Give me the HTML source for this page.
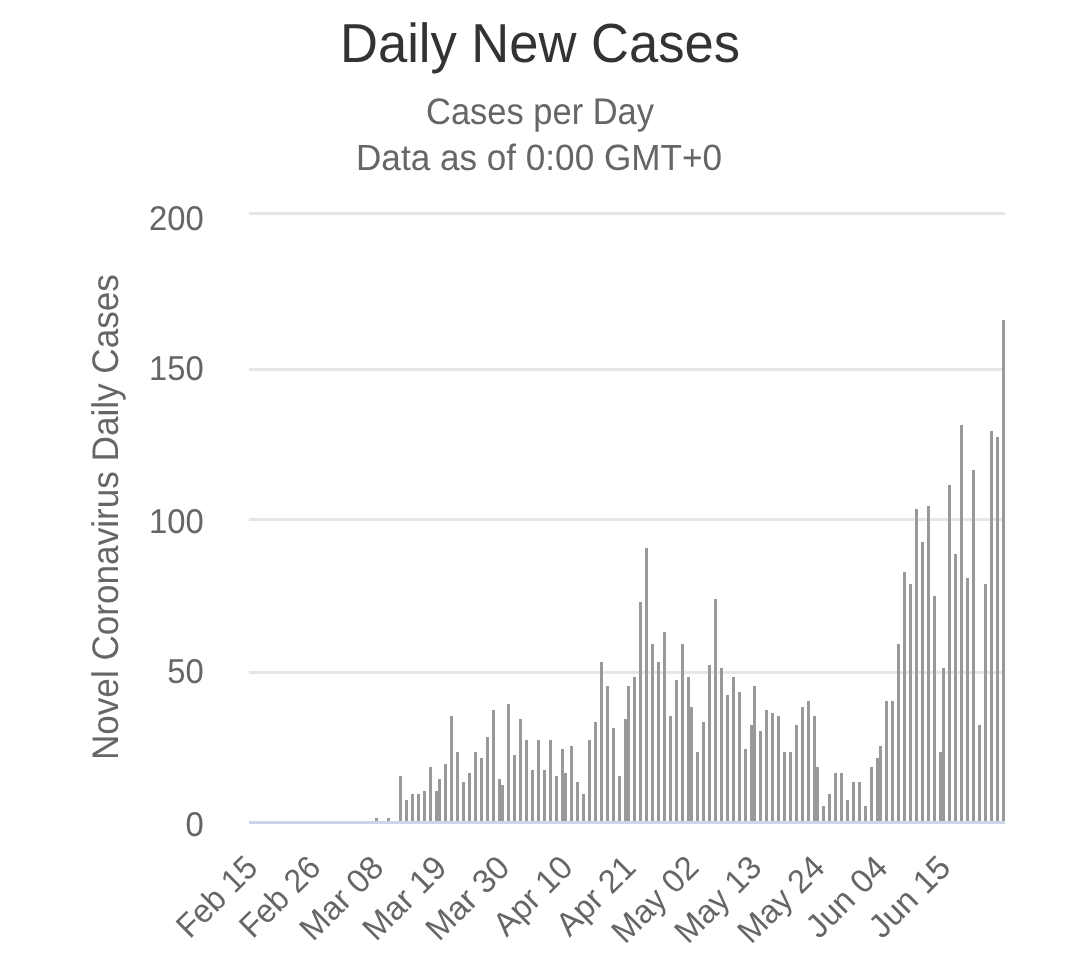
<!DOCTYPE html>
<html><head><meta charset="utf-8"><style>
html,body{margin:0;padding:0;background:#fff;width:1078px;height:976px;overflow:hidden}
svg{display:block;font-family:"Liberation Sans", sans-serif;-webkit-font-smoothing:antialiased;text-rendering:geometricPrecision;will-change:transform}
</style></head><body>
<svg width="1078" height="976" viewBox="0 0 1078 976">
<rect width="1078" height="976" fill="#ffffff"/>
<g fill="#e6e6e6"><rect x="249" y="212" width="756" height="3"/><rect x="249" y="368" width="756" height="3"/><rect x="249" y="518" width="756" height="3"/><rect x="249" y="671" width="756" height="3"/></g>
<g fill="#999999"><rect x="375" y="818" width="3" height="3"/><rect x="387" y="818" width="3" height="3"/><rect x="399" y="776" width="3" height="45"/><rect x="405" y="800" width="3" height="21"/><rect x="411" y="794" width="3" height="27"/><rect x="417" y="794" width="3" height="27"/><rect x="423" y="791" width="3" height="30"/><rect x="429" y="767" width="3" height="54"/><rect x="435" y="791" width="3" height="30"/><rect x="438" y="779" width="3" height="42"/><rect x="444" y="764" width="3" height="57"/><rect x="450" y="716" width="3" height="105"/><rect x="456" y="752" width="3" height="69"/><rect x="462" y="782" width="3" height="39"/><rect x="468" y="773" width="3" height="48"/><rect x="474" y="752" width="3" height="69"/><rect x="480" y="758" width="3" height="63"/><rect x="486" y="737" width="3" height="84"/><rect x="492" y="710" width="3" height="111"/><rect x="498" y="779" width="3" height="42"/><rect x="501" y="785" width="3" height="36"/><rect x="507" y="704" width="3" height="117"/><rect x="513" y="755" width="3" height="66"/><rect x="519" y="719" width="3" height="102"/><rect x="525" y="740" width="3" height="81"/><rect x="531" y="770" width="3" height="51"/><rect x="537" y="740" width="3" height="81"/><rect x="543" y="770" width="3" height="51"/><rect x="549" y="740" width="3" height="81"/><rect x="555" y="776" width="3" height="45"/><rect x="561" y="749" width="3" height="72"/><rect x="564" y="773" width="3" height="48"/><rect x="570" y="746" width="3" height="75"/><rect x="576" y="782" width="3" height="39"/><rect x="582" y="794" width="3" height="27"/><rect x="588" y="740" width="3" height="81"/><rect x="594" y="722" width="3" height="99"/><rect x="600" y="662" width="3" height="159"/><rect x="606" y="686" width="3" height="135"/><rect x="612" y="728" width="3" height="93"/><rect x="618" y="776" width="3" height="45"/><rect x="624" y="719" width="3" height="102"/><rect x="627" y="686" width="3" height="135"/><rect x="633" y="677" width="3" height="144"/><rect x="639" y="602" width="3" height="219"/><rect x="645" y="548" width="3" height="273"/><rect x="651" y="644" width="3" height="177"/><rect x="657" y="662" width="3" height="159"/><rect x="663" y="632" width="3" height="189"/><rect x="669" y="716" width="3" height="105"/><rect x="675" y="680" width="3" height="141"/><rect x="681" y="644" width="3" height="177"/><rect x="687" y="677" width="3" height="144"/><rect x="690" y="707" width="3" height="114"/><rect x="696" y="752" width="3" height="69"/><rect x="702" y="722" width="3" height="99"/><rect x="708" y="665" width="3" height="156"/><rect x="714" y="599" width="3" height="222"/><rect x="720" y="668" width="3" height="153"/><rect x="726" y="695" width="3" height="126"/><rect x="732" y="677" width="3" height="144"/><rect x="738" y="692" width="3" height="129"/><rect x="744" y="749" width="3" height="72"/><rect x="750" y="725" width="3" height="96"/><rect x="753" y="686" width="3" height="135"/><rect x="759" y="731" width="3" height="90"/><rect x="765" y="710" width="3" height="111"/><rect x="771" y="713" width="3" height="108"/><rect x="777" y="716" width="3" height="105"/><rect x="783" y="752" width="3" height="69"/><rect x="789" y="752" width="3" height="69"/><rect x="795" y="725" width="3" height="96"/><rect x="801" y="707" width="3" height="114"/><rect x="807" y="701" width="3" height="120"/><rect x="813" y="716" width="3" height="105"/><rect x="816" y="767" width="3" height="54"/><rect x="822" y="806" width="3" height="15"/><rect x="828" y="794" width="3" height="27"/><rect x="834" y="773" width="3" height="48"/><rect x="840" y="773" width="3" height="48"/><rect x="846" y="800" width="3" height="21"/><rect x="852" y="782" width="3" height="39"/><rect x="858" y="782" width="3" height="39"/><rect x="864" y="806" width="3" height="15"/><rect x="870" y="767" width="3" height="54"/><rect x="876" y="758" width="3" height="63"/><rect x="879" y="746" width="3" height="75"/><rect x="885" y="701" width="3" height="120"/><rect x="891" y="701" width="3" height="120"/><rect x="897" y="644" width="3" height="177"/><rect x="903" y="572" width="3" height="249"/><rect x="909" y="584" width="3" height="237"/><rect x="915" y="509" width="3" height="312"/><rect x="921" y="542" width="3" height="279"/><rect x="927" y="506" width="3" height="315"/><rect x="933" y="596" width="3" height="225"/><rect x="939" y="752" width="3" height="69"/><rect x="942" y="668" width="3" height="153"/><rect x="948" y="485" width="3" height="336"/><rect x="954" y="554" width="3" height="267"/><rect x="960" y="425" width="3" height="396"/><rect x="966" y="578" width="3" height="243"/><rect x="972" y="470" width="3" height="351"/><rect x="978" y="725" width="3" height="96"/><rect x="984" y="584" width="3" height="237"/><rect x="990" y="431" width="3" height="390"/><rect x="996" y="437" width="3" height="384"/><rect x="1002" y="320" width="3" height="501"/></g>
<rect x="249" y="821" width="756" height="3" fill="#ccd6eb"/>
<text x="340" y="62" font-size="55" fill="#333333" textLength="400" lengthAdjust="spacingAndGlyphs">Daily New Cases</text><text x="426" y="124.4" font-size="37" fill="#666666" textLength="228" lengthAdjust="spacingAndGlyphs">Cases per Day</text><text x="356" y="169.7" font-size="36.5" fill="#666666" textLength="366" lengthAdjust="spacingAndGlyphs">Data as of 0:00 GMT+0</text><text x="203.8" y="229.7" font-size="34.5" fill="#666666" text-anchor="end" transform="translate(203.8,0) scale(0.95,1) translate(-203.8,0)">200</text><text x="203.8" y="379.9" font-size="34.5" fill="#666666" text-anchor="end" transform="translate(203.8,0) scale(0.95,1) translate(-203.8,0)">150</text><text x="203.8" y="532.5" font-size="34.5" fill="#666666" text-anchor="end" transform="translate(203.8,0) scale(0.95,1) translate(-203.8,0)">100</text><text x="203.8" y="683.2" font-size="34.5" fill="#666666" text-anchor="end" transform="translate(203.8,0) scale(0.95,1) translate(-203.8,0)">50</text><text x="203.8" y="835.8" font-size="34.5" fill="#666666" text-anchor="end" transform="translate(203.8,0) scale(0.95,1) translate(-203.8,0)">0</text><text transform="translate(117.9,517.1) rotate(-90)" x="0" y="0" font-size="37" fill="#666666" text-anchor="middle" textLength="486" lengthAdjust="spacingAndGlyphs">Novel Coronavirus Daily Cases</text><text transform="translate(259.60,869.5) rotate(-45) scale(0.963,1)" x="0" y="0" font-size="33" fill="#666666" text-anchor="end">Feb 15</text><text transform="translate(322.60,869.5) rotate(-45) scale(0.963,1)" x="0" y="0" font-size="33" fill="#666666" text-anchor="end">Feb 26</text><text transform="translate(385.60,869.5) rotate(-45) scale(1.0,1)" x="0" y="0" font-size="33" fill="#666666" text-anchor="end">Mar 08</text><text transform="translate(448.60,869.5) rotate(-45) scale(1.0,1)" x="0" y="0" font-size="33" fill="#666666" text-anchor="end">Mar 19</text><text transform="translate(511.60,869.5) rotate(-45) scale(1.0,1)" x="0" y="0" font-size="33" fill="#666666" text-anchor="end">Mar 30</text><text transform="translate(574.60,869.5) rotate(-45) scale(0.991,1)" x="0" y="0" font-size="33" fill="#666666" text-anchor="end">Apr 10</text><text transform="translate(637.60,869.5) rotate(-45) scale(0.991,1)" x="0" y="0" font-size="33" fill="#666666" text-anchor="end">Apr 21</text><text transform="translate(700.60,869.5) rotate(-45) scale(0.988,1)" x="0" y="0" font-size="33" fill="#666666" text-anchor="end">May 02</text><text transform="translate(763.60,869.5) rotate(-45) scale(0.988,1)" x="0" y="0" font-size="33" fill="#666666" text-anchor="end">May 13</text><text transform="translate(826.60,869.5) rotate(-45) scale(0.988,1)" x="0" y="0" font-size="33" fill="#666666" text-anchor="end">May 24</text><text transform="translate(889.60,869.5) rotate(-45) scale(1.003,1)" x="0" y="0" font-size="33" fill="#666666" text-anchor="end">Jun 04</text><text transform="translate(952.60,869.5) rotate(-45) scale(1.003,1)" x="0" y="0" font-size="33" fill="#666666" text-anchor="end">Jun 15</text>
</svg>
</body></html>
